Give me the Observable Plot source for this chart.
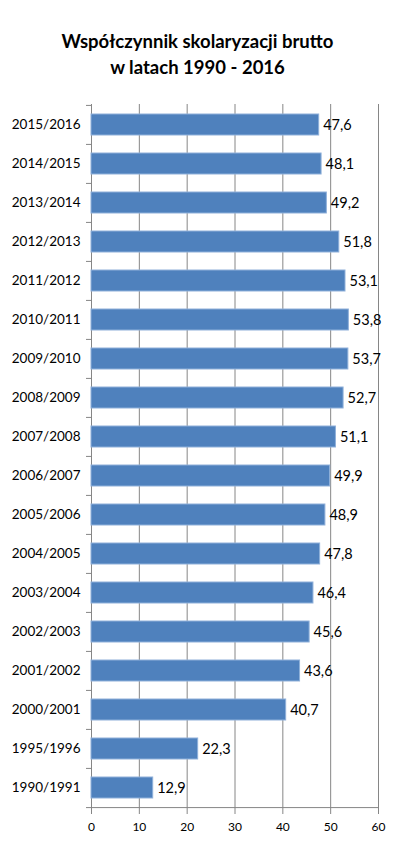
<!DOCTYPE html>
<html>
<head>
<meta charset="utf-8">
<script src="https://cdn.jsdelivr.net/npm/d3@7"></script>
<script src="https://cdn.jsdelivr.net/npm/@observablehq/plot@0.6"></script>
<style>
  body { margin: 0; background: #fff; }
  #wrap { position: relative; width: 395px; height: 851px; }
  #title { position: absolute; left: 0; width: 395px; top: 28px; text-align: center;
    font-family: Lato, "Open Sans", sans-serif; font-weight: bold; font-size: 18.5px; line-height: 26px; color: #000; }
  svg { display: block; }
</style>
</head>
<body>
<div id="wrap">
  <div id="title">Współczynnik skolaryzacji brutto<br>w latach 1990 - 2016</div>
  <div id="chart"></div>
</div>
<script>
const categories = ["2015/2016","2014/2015","2013/2014","2012/2013","2011/2012","2010/2011","2009/2010","2008/2009","2007/2008","2006/2007","2005/2006","2004/2005","2003/2004","2002/2003","2001/2002","2000/2001","1995/1996","1990/1991"];
const values = [47.6,48.1,49.2,51.8,53.1,53.8,53.7,52.7,51.1,49.9,48.9,47.8,46.4,45.6,43.6,40.7,22.3,12.9];
const xTicks = [0,10,20,30,40,50,60];

const data = categories.map((c, i) => ({cat: c, value: values[i]}));

const W = 395, H = 851, mT = 104, mB = 42, mL = 91, mR = 17;
const step = (H - mT - mB) / categories.length;
const gridColor = "#868686";
const fmt = v => String(v.toFixed(1)).replace(".", ",");

const plot = Plot.plot({
  width: W,
  height: H,
  marginTop: mT,
  marginBottom: mB,
  marginLeft: mL,
  marginRight: mR,
  style: {fontFamily: "Lato, 'Open Sans', sans-serif", color: "#000", background: "#fff"},
  x: {domain: [0, 60], ticks: xTicks},
  y: {domain: categories, paddingInner: 0.46, paddingOuter: 0.23},
  marks: [
    Plot.ruleX(xTicks, {stroke: gridColor, strokeWidth: 1}),
    Plot.barX(data, {x: "value", y: "cat", fill: "#4F81BD", stroke: "#8FB0DA", strokeWidth: 1}),
    Plot.ruleY(categories, {y: d => d, x1: 0, x2: 0, insetLeft: -5, dy: -step / 2, stroke: gridColor}),
    Plot.ruleY(categories.slice(-1), {y: d => d, x1: 0, x2: 60, insetLeft: -5, dy: step / 2, stroke: gridColor}),
    Plot.text(data, {x: "value", y: "cat", text: d => fmt(d.value), textAnchor: "start", dx: 4, fontSize: 14.5, fill: "#000"}),
    Plot.axisY({tickSize: 0, tickPadding: 11, fontSize: 13.5, label: null}),
    Plot.axisX({ticks: xTicks, tickSize: 5, tickPadding: 8, fontSize: 12, label: null, stroke: gridColor})
  ]
});
document.getElementById("chart").appendChild(plot);
</script>
</body>
</html>
